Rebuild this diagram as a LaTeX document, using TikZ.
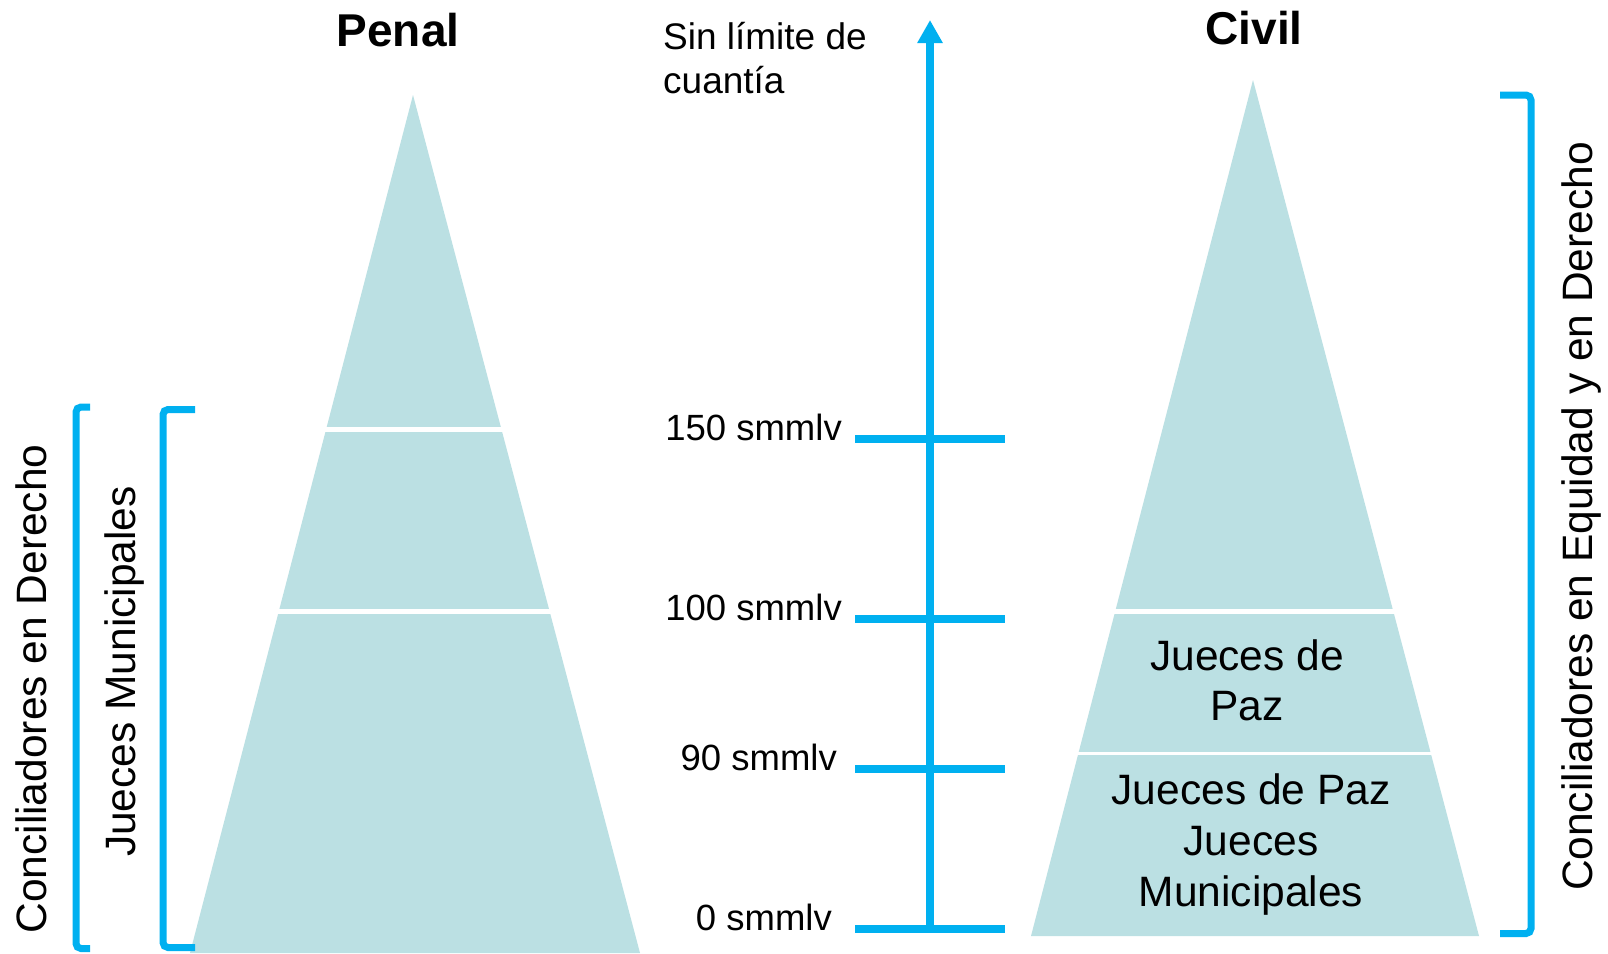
\documentclass[tikz,border=0pt]{standalone}
\usepackage{fontspec}
\setmainfont{Liberation Sans}
\usetikzlibrary{arrows.meta}
\definecolor{pyr}{RGB}{187,224,227}
\definecolor{axblue}{RGB}{0,176,240}
\begin{document}
\begin{tikzpicture}[x=1pt,y=-1pt,
  lbl/.style={inner sep=0pt, font=\fontsize{36.5}{44}\selectfont},
  big/.style={inner sep=0pt, font=\fontsize{42.5}{50}\selectfont},
  ttl/.style={inner sep=0pt, font=\fontsize{46}{52}\selectfont\bfseries},
  brk/.style={draw=axblue, line width=7pt, rounded corners=5pt},
  axisline/.style={draw=axblue, line width=7.5pt},
  gap/.style={fill=white}
]
\useasboundingbox[fill=white] (0,0) rectangle (1608,953);

% Penal pyramid
\fill[pyr] (413,95) -- (640,953) -- (190,953) -- cycle;
\fill[gap] (250,426.7) rectangle (580,431.7);
\fill[gap] (250,609) rectangle (580,614);

% Civil pyramid
\fill[pyr] (1253,80) -- (1479,936) -- (1031,936) -- cycle;
\fill[gap] (1080,609) rectangle (1420,613.7);
\fill[gap] (1050,751.5) rectangle (1460,755);

% Axis
\coordinate (axbot) at (930,929);
\coordinate (axtop) at (930,20);
\draw[axisline, -{Triangle[length=23pt,width=24pt]}] (axbot) -- (axtop);
\foreach \y/\n in {439/a,619/b,769/c,929/d}{
  \coordinate (tl\n) at (855,\y);
  \coordinate (tr\n) at (1005,\y);
  \draw[axisline] (tl\n) -- (tr\n);
}

% Axis labels
\node[lbl, anchor=base east] (l150) at (842,440.5) {150 smmlv};
\node[lbl, anchor=base east] (l100) at (842,620.5) {100 smmlv};
\node[lbl, anchor=base east] (l90) at (837,770.5) {90 smmlv};
\node[lbl, anchor=base east] (l0) at (832,930.5) {0 smmlv};
\node[lbl, anchor=base west, font=\fontsize{37}{44}\selectfont] (sin) at (663,49)
  {\begin{tabular}[t]{@{}l@{}}Sin límite de\\cuantía\end{tabular}};

% Titles
\node[ttl, anchor=base] (penal) at (398,46) {Penal};
\node[ttl, anchor=base] (civil) at (1254,44) {Civil};

% Pyramid labels
\node[big, anchor=base] (jp) at (1247,670)
  {\begin{tabular}[t]{@{}c@{}}Jueces de\\Paz\end{tabular}};
\node[big, anchor=base, font=\fontsize{42.5}{51}\selectfont] (jpm) at (1251,804)
  {\begin{tabular}[t]{@{}c@{}}Jueces de Paz\\Jueces\\Municipales\end{tabular}};

% Rotated labels
\node[big, rotate=90, anchor=base] (cd) at (46,689) {Conciliadores en Derecho};
\node[big, rotate=90, anchor=base] (jm) at (135,671.5) {Jueces Municipales};
\node[big, rotate=90, anchor=base] (ced) at (1592,516.5) {Conciliadores en Equidad y en Derecho};

% Brackets
\draw[brk] (90,407) -- (76,407) -- (76,948.5) -- (90,948.5);
\draw[brk] (195,409.5) -- (163,409.5) -- (163,947.5) -- (195,947.5);
\draw[brk] (1500,95) -- (1531,95) -- (1531,933.5) -- (1500,933.5);
\end{tikzpicture}
\end{document}
